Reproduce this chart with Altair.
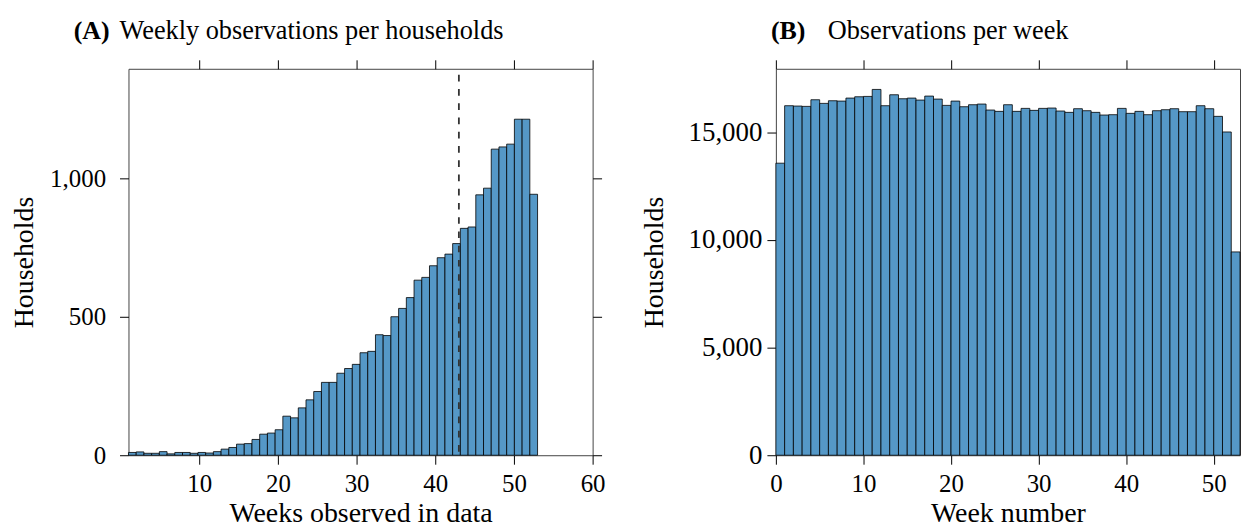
import altair as alt
import numpy as np
import pandas as pd

FONT = "Liberation Serif"
FS = 25        # tick labels
FS_T = 28      # axis titles
FS_H = 26.4    # panel headings

# ---------------- Panel A: weeks each household is observed ----------------
obs_weeks_range = [1, 53]          # histogram range (53 equal bins)
households_per_bin = [10, 12, 7, 7, 13, 5, 10, 10, 7, 10,
                      8, 13, 22, 28, 40, 42, 57, 76, 80, 92,
                      141, 135, 171, 200, 230, 263, 263, 296, 313, 328,
                      370, 375, 435, 432, 500, 530, 569, 632, 642, 684,
                      713, 726, 764, 819, 824, 940, 964, 1105, 1113, 1123,
                      1213, 1213, 942]
cutoff_weeks = [43]
a_x_ticks = [10, 20, 30, 40, 50, 60]
a_y_ticks = [0, 500, 1000]
a_tag = "(A)"
a_title = "Weekly observations per households"
a_xlabel = "Weeks observed in data"

# ---------------- Panel B: observations per week ----------------
week_numbers = list(range(53))
households_per_week = [13565, 16235, 16219, 16204, 16512, 16343, 16466, 16450, 16589, 16651,
                       16667, 16991, 16235, 16744, 16559, 16589, 16497, 16682, 16543, 16250,
                       16450, 16188, 16281, 16312, 16034, 15972, 16281, 15972, 16111, 16019,
                       16111, 16127, 15988, 15926, 16096, 16003, 15926, 15802, 15818, 16111,
                       15880, 15972, 15818, 16003, 16049, 16096, 15957, 15957, 16235, 16096,
                       15741, 15015, 9444]
b_x_ticks = [0, 10, 20, 30, 40, 50]
b_y_ticks = [0, 5000, 10000, 15000]
b_tag = "(B)"
b_title = "Observations per week"
b_xlabel = "Week number"

ylabel = "Households"

edges = np.linspace(obs_weeks_range[0], obs_weeks_range[1], len(households_per_bin) + 1)
df_a = pd.DataFrame({"lo": edges[:-1], "hi": edges[1:], "n": households_per_bin})
df_b = pd.DataFrame({"lo": week_numbers, "hi": [w + 1 for w in week_numbers],
                     "n": households_per_week})
df_cut = pd.DataFrame({"week": cutoff_weeks})

W, H = 466, 388
BAR = dict(fill="#5598c7", stroke="#000000", strokeWidth=1, strokeOpacity=0.8)


def panel(df, xdom, ydom, xvals, yvals, xtitle, tag, text, tag_dx, text_dx,
          ylab_pad, ylab_fs, ytitle_pad, right_ticks, cut=None):
    xs = alt.Scale(domain=xdom, nice=False, zero=False)
    ys = alt.Scale(domain=ydom, nice=False, zero=True)
    bars = alt.Chart(df).mark_bar(**BAR).encode(
        x=alt.X("lo:Q", scale=xs,
                axis=alt.Axis(values=xvals, format="d", title=xtitle,
                              labelPadding=7, titlePadding=4)),
        x2="hi:Q",
        y=alt.Y("n:Q", scale=ys,
                axis=alt.Axis(values=yvals, format=",d", title=ylabel,
                              labelPadding=ylab_pad, labelFontSize=ylab_fs,
                              titlePadding=ytitle_pad)),
        y2=alt.datum(0),
    )
    yax2 = alt.Axis(orient="right", values=yvals, labels=False, title=None) if right_ticks else None
    ticks = alt.Chart(df).mark_bar(opacity=0).encode(
        x=alt.X("lo:Q", scale=xs,
                axis=alt.Axis(orient="top", values=xvals, labels=False, title=None)),
        x2="hi:Q",
        y=alt.Y("n:Q", scale=ys, axis=yax2),
        y2=alt.datum(0),
    )
    layers = [bars, ticks]
    if cut is not None:
        rule = alt.Chart(cut).mark_rule(color="#333333", strokeWidth=1.8,
                                        strokeDash=[6.7, 7.6]).encode(
            x=alt.X("week:Q", scale=xs, axis=None),
            y=alt.value(6),
            y2=alt.value(H),
        )
        layers.append(rule)
    tdf = pd.DataFrame({"tag": [tag], "text": [text]})
    tag_mark = alt.Chart(tdf).mark_text(font=FONT, fontSize=26, fontWeight="bold",
                                        align="left", baseline="alphabetic",
                                        color="black").encode(
        x=alt.value(tag_dx), y=alt.value(-30), text="tag:N")
    txt_mark = alt.Chart(tdf).mark_text(font=FONT, fontSize=FS_H, align="left",
                                        baseline="alphabetic", color="black").encode(
        x=alt.value(text_dx), y=alt.value(-30), text="text:N")
    layers += [tag_mark, txt_mark]
    return alt.layer(*layers).resolve_axis(x="independent", y="independent").properties(
        width=W, height=H)


pa = panel(df_a, [1, 60], [0, 1395], a_x_ticks, a_y_ticks, a_xlabel, a_tag, a_title,
           -55, -9, 14, FS, 11, True, cut=df_cut)
pb = panel(df_b, [0, 53], [0, 17950], b_x_ticks, b_y_ticks, b_xlabel, b_tag, b_title,
           -5, 52, 5, 27, 20, False)

chart = alt.hconcat(pa, pb, spacing=34).properties(
    padding={"left": 10, "top": 16, "right": 1, "bottom": 0}
).configure(font=FONT).configure_view(stroke="#444444", strokeWidth=1).configure_axis(
    labelFont=FONT, titleFont=FONT, labelFontSize=FS, titleFontSize=FS_T,
    titleFontWeight="normal", tickSize=9, tickColor="black", tickWidth=1,
    labelColor="black", titleColor="black", domain=False, grid=False,
    labelFlush=False,
)

chart.save("out.html", embed_options={"renderer": "svg", "actions": False})
